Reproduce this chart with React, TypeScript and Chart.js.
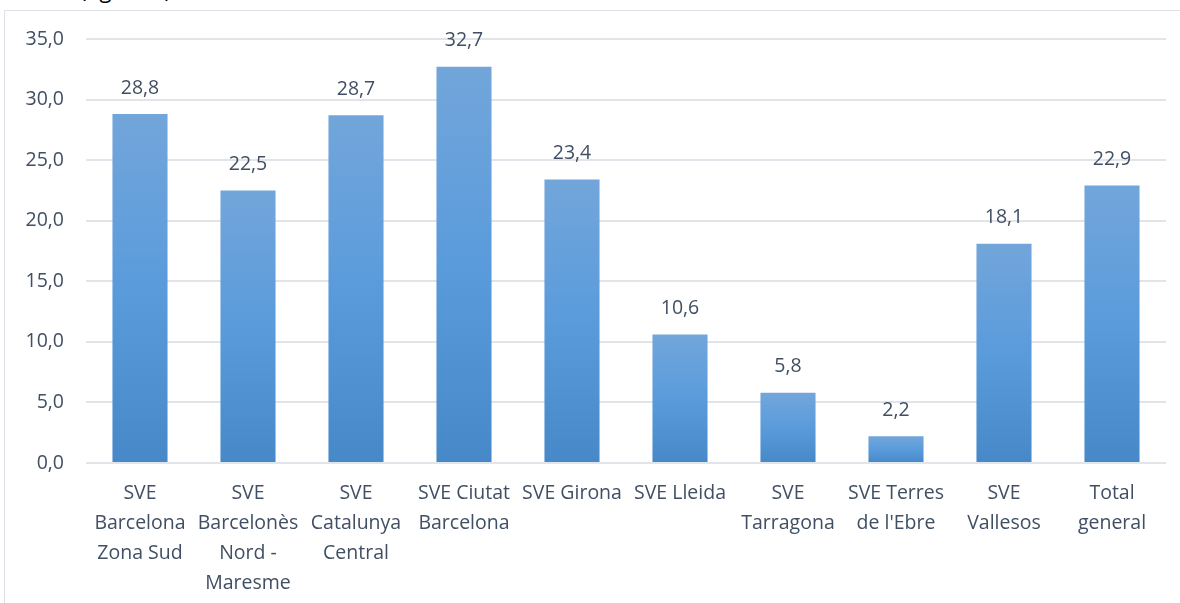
import React, { useEffect, useRef } from "react";
import { Chart, registerables } from "chart.js";

Chart.register(...registerables);

const categories: string[][] = [
  ["SVE", "Barcelona", "Zona Sud"],
  ["SVE", "Barcelonès", "Nord -", "Maresme"],
  ["SVE", "Catalunya", "Central"],
  ["SVE Ciutat", "Barcelona"],
  ["SVE Girona"],
  ["SVE Lleida"],
  ["SVE", "Tarragona"],
  ["SVE Terres", "de l'Ebre"],
  ["SVE", "Vallesos"],
  ["Total", "general"],
];
const values: number[] = [28.8, 22.5, 28.7, 32.7, 23.4, 10.6, 5.8, 2.2, 18.1, 22.9];
const yTicks: number[] = [0, 5, 10, 15, 20, 25, 30, 35];
const titleText = "(figura 1)";

const TEXT = "#404f63";
const FONT = "'Open Sans', 'Noto Sans', sans-serif";
const fmt = (v: number) => v.toFixed(1).replace(".", ",");

const labelPlugin = {
  id: "valueLabels",
  afterDatasetsDraw(chart: any) {
    const ctx = chart.ctx;
    const meta = chart.getDatasetMeta(0);
    ctx.save();
    ctx.fillStyle = TEXT;
    ctx.font = `19.5px ${FONT}`;
    ctx.textAlign = "center";
    ctx.textBaseline = "middle";
    meta.data.forEach((bar: any, i: number) => {
      ctx.fillText(fmt(values[i]), bar.x, bar.y - 26);
    });
    ctx.restore();
  },
};

export default function App() {
  const ref = useRef<HTMLCanvasElement>(null);
  useEffect(() => {
    if (!ref.current) return;
    const chart = new Chart(ref.current, {
      type: "bar",
      data: {
        labels: categories,
        datasets: [
          {
            data: values,
            barPercentage: 0.51,
            categoryPercentage: 1,
            backgroundColor: (c: any) => {
              const ch = c.chart;
              const ys = ch.scales && ch.scales.y;
              if (!ys || !ch.chartArea || c.raw == null) return "#5a9bdb";
              const top = ys.getPixelForValue(c.raw);
              const base = ys.getPixelForValue(0);
              if (!isFinite(top) || !isFinite(base) || base - top < 1) return "#5a9bdb";
              const g = ch.ctx.createLinearGradient(0, top, 0, base);
              g.addColorStop(0, "#72a6da");
              g.addColorStop(0.5, "#5a9bdc");
              g.addColorStop(1, "#4688c8");
              return g;
            },
            borderWidth: 0,
          },
        ],
      },
      options: {
        responsive: false,
        animation: false,
        devicePixelRatio: 1,
        layout: { padding: { top: 39, right: 14, left: 0, bottom: 0 } },
        plugins: {
          legend: { display: false },
          tooltip: { enabled: false },
        },
        scales: {
          x: {
            grid: { display: false, drawTicks: false },
            border: { display: false },
            ticks: {
              color: TEXT,
              font: { family: FONT, size: 19.5, lineHeight: 1.54 },
              padding: 15,
              maxRotation: 0,
              autoSkip: false,
            },
            afterFit: (s: any) => {
              s.height = 140;
            },
          },
          y: {
            min: 0,
            max: 35,
            afterBuildTicks: (s: any) => {
              s.ticks = yTicks.map((v) => ({ value: v }));
            },
            grid: { color: "#e1e4e9", lineWidth: 2, drawTicks: false },
            border: { display: false },
            ticks: {
              color: TEXT,
              font: { family: FONT, size: 19.5 },
              padding: 22,
              callback: (v: any) => fmt(Number(v)),
            },
            afterFit: (s: any) => {
              s.width = 86;
            },
          },
        },
      },
      plugins: [labelPlugin],
    });
    return () => chart.destroy();
  }, []);

  return (
    <div
      style={{
        position: "fixed",
        left: 0,
        top: 0,
        width: 1180,
        height: 603,
        overflow: "hidden",
        background: "#fff",
      }}
    >
      <span
        style={{
          position: "absolute",
          left: 80,
          top: -26,
          fontFamily: FONT,
          fontSize: 22,
          color: "#000",
          whiteSpace: "nowrap",
        }}
      >
        {titleText}
      </span>
      <div
        style={{
          position: "absolute",
          left: 4,
          top: 10,
          width: 1200,
          height: 620,
          borderTop: "1px solid #dde1e8",
          borderLeft: "1px solid #dde1e8",
        }}
      />
      <canvas
        ref={ref}
        width={1180}
        height={603}
        style={{ position: "absolute", left: 0, top: 0, width: 1180, height: 603 }}
      />
    </div>
  );
}
